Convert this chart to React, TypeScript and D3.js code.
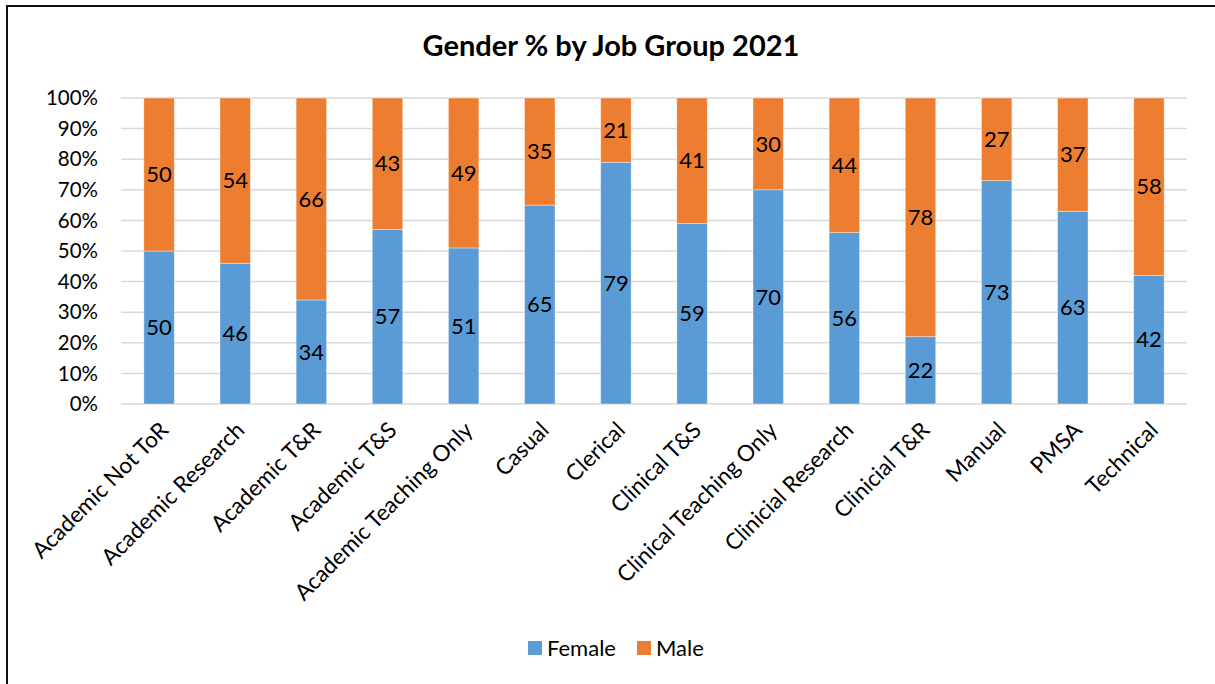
import React from "react";
import * as d3 from "d3";

const categories = [
  "Academic Not ToR",
  "Academic Research",
  "Academic T&R",
  "Academic T&S",
  "Academic Teaching Only",
  "Casual",
  "Clerical",
  "Clinical T&S",
  "Clinical Teaching Only",
  "Clinicial Research",
  "Clinicial T&R",
  "Manual",
  "PMSA",
  "Technical",
];
const female = [50, 46, 34, 57, 51, 65, 79, 59, 70, 56, 22, 73, 63, 42];
const male = [50, 54, 66, 43, 49, 35, 21, 41, 30, 44, 78, 27, 37, 58];
const yTicks = [0, 10, 20, 30, 40, 50, 60, 70, 80, 90, 100];
const title = "Gender % by Job Group 2021";
const seriesNames = ["Female", "Male"];
const colors = ["#5B9BD5", "#ED7D31"];

const W = 1215;
const H = 684;
const FONT = "Lato, 'Open Sans', sans-serif";

export default function App() {
  const left = 121;
  const right = 1187;
  const top = 98;
  const bottom = 404;

  const x = d3.scaleBand<string>().domain(categories).range([left, right]).paddingInner(0.6).paddingOuter(0.3);
  const y = d3.scaleLinear().domain([0, 100]).range([bottom, top]);

  const rows = categories.map((c, i) => ({ cat: c, Female: female[i], Male: male[i] }));
  const stack = d3.stack<any>().keys(seriesNames)(rows);

  return (
    <svg width={W} height={H} style={{ position: "absolute", left: 0, top: 0, background: "#fff" }} fontFamily={FONT}>
      <rect x={0} y={0} width={W} height={H} fill="#fff" />
      {/* border */}
      <line x1={7} y1={6} x2={W} y2={6} stroke="#111" strokeWidth={2} />
      <line x1={7} y1={5} x2={7} y2={H} stroke="#111" strokeWidth={2} />

      <text x={611} y={56} textAnchor="middle" fontSize={29} fontWeight="bold" fill="#000">
        {title}
      </text>

      {/* gridlines */}
      {yTicks.map((t) => (
        <g key={t}>
          <line x1={left} x2={right} y1={y(t)} y2={y(t)} stroke="#d9d9d9" strokeWidth={1.5} />
          <text x={98} y={y(t)} dy="0.35em" textAnchor="end" fontSize={20.5} fill="#000">
            {t}%
          </text>
        </g>
      ))}

      {/* bars */}
      {stack.map((s, si) => (
        <g key={s.key}>
          {s.map((d: any, i: number) => {
            const cat = categories[i];
            const x0 = x(cat)!;
            const y0 = y(d[1]);
            const y1 = y(d[0]);
            const v = d[1] - d[0];
            return (
              <g key={cat}>
                <rect x={x0} y={y0} width={x.bandwidth()} height={y1 - y0} fill={colors[si]} stroke="#fff" strokeOpacity={0.5} strokeWidth={0.75} />
                <text x={x0 + x.bandwidth() / 2} y={(y0 + y1) / 2} dy="0.35em" textAnchor="middle" fontSize={22} fill="#000">
                  {v}
                </text>
              </g>
            );
          })}
        </g>
      ))}

      {/* category labels */}
      {categories.map((c) => {
        const cx = x(c)! + x.bandwidth() / 2;
        return (
          <text key={c} transform={`translate(${cx + 5},${426}) rotate(-45)`} dy="0.35em" textAnchor="end" fontSize={22.5} fill="#000">
            {c}
          </text>
        );
      })}

      {/* legend */}
      {seriesNames.map((n, i) => {
        const lx = i === 0 ? 528 : 637;
        return (
          <g key={n}>
            <rect x={lx} y={641} width={14} height={14} fill={colors[i]} />
            <text x={lx + 19} y={648} dy="0.35em" fontSize={22} fill="#000">
              {n}
            </text>
          </g>
        );
      })}
    </svg>
  );
}
